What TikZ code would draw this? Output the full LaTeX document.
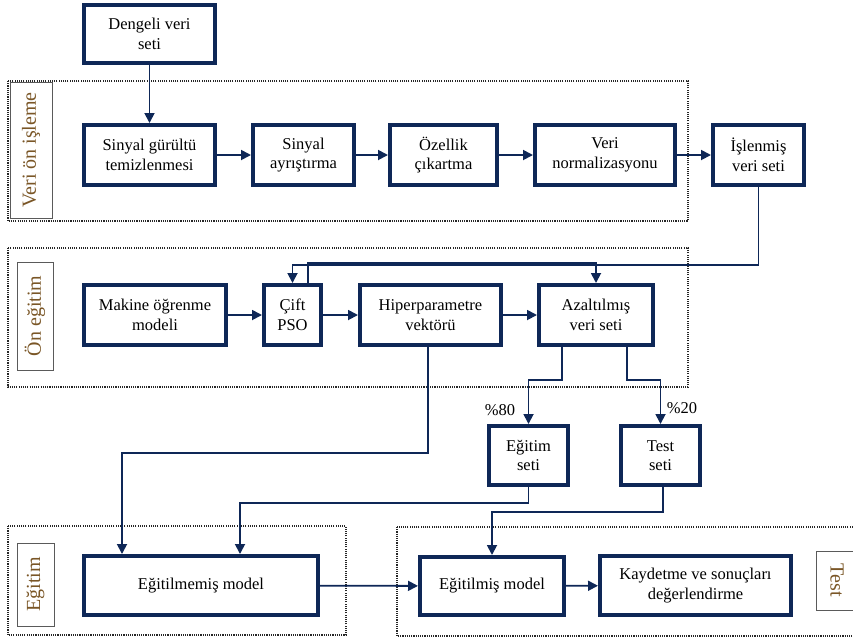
\documentclass[tikz,border=0pt]{standalone}
\usepackage{fontspec}
\setmainfont{Liberation Serif}
\usetikzlibrary{arrows.meta}
\definecolor{navy}{HTML}{0E2757}
\definecolor{labbrown}{HTML}{7A5626}
\definecolor{labgray}{HTML}{5A5A5A}
\tikzset{
  box/.style={draw=navy, line width=4pt, fill=white, align=center, inner sep=2pt,
    font=\rmfamily\fontsize{16.5}{19.5}\selectfont},
  conn/.style={draw=navy, line width=1.8pt, -{Triangle[length=10pt,width=10pt]}},
  group/.style={draw=black!85, line width=1.6pt, dash pattern=on 1.1pt off 1.1pt},
  lab/.style={draw=labgray, line width=1pt, text=labbrown, fill=white, inner sep=0pt,
    font=\rmfamily\fontsize{20}{22}\selectfont},
  pct/.style={font=\rmfamily\fontsize{16.5}{19}\selectfont, inner sep=0pt}
}
\begin{document}
\begin{tikzpicture}[x=1pt,y=-1pt]
\useasboundingbox (0,0) rectangle (853,641);
\clip (0,0) rectangle (853,641);
% groups
\draw[group] (8,81) rectangle (688,221);
\draw[group] (8,248) rectangle (688,387);
\draw[group] (8,526) rectangle (346,635);
\draw[group] (397,527) rectangle (880,636);
% group labels
\node[lab, rotate=90, minimum width=136pt, minimum height=42pt] (l1) at (31,150) {Veri ön işleme};
\node[lab, rotate=90, minimum width=108pt, minimum height=36pt] (l2) at (35,316) {Ön eğitim};
\node[lab, rotate=90, minimum width=83pt, minimum height=37pt] (l3) at (35.5,584.5) {Eğitim};
\node[lab, rotate=-90, minimum width=59pt, minimum height=42pt] (l4) at (837,580.5) {Test};
% boxes
\node[box, minimum width=131pt, minimum height=58pt] (deng) at (149.5,34) {Dengeli veri\\seti};
\node[box, minimum width=131pt, minimum height=60pt] (sgt) at (149.5,155) {Sinyal gürültü\\temizlenmesi};
\node[box, minimum width=101pt, minimum height=60pt] (say) at (303.5,155) {Sinyal\\ayrıştırma};
\node[box, minimum width=107pt, minimum height=60pt] (oz) at (443.5,155) {Özellik\\çıkartma};
\node[box, minimum width=140pt, minimum height=60pt] (vn) at (605,155) {Veri\\normalizasyonu};
\node[box, minimum width=91pt, minimum height=60pt] (isl) at (758.5,155) {İşlenmiş\\veri seti};
\node[box, minimum width=142pt, minimum height=60pt] (mak) at (155,315) {Makine öğrenme\\modeli};
\node[box, minimum width=57pt, minimum height=60pt] (pso) at (292.5,315) {Çift\\PSO};
\node[box, minimum width=141pt, minimum height=60pt] (hip) at (430.5,315) {Hiperparametre\\vektörü};
\node[box, minimum width=114pt, minimum height=60pt] (aza) at (596,315) {Azaltılmış\\veri seti};
\node[box, minimum width=79pt, minimum height=59pt] (egs) at (528.5,455.5) {Eğitim\\seti};
\node[box, minimum width=79pt, minimum height=59pt] (tst) at (660.5,455.5) {Test\\seti};
\node[box, minimum width=234pt, minimum height=59pt] (egm) at (201,585.5) {Eğitilmemiş model};
\node[box, minimum width=144pt, minimum height=58pt] (egl) at (492,586) {Eğitilmiş model};
\node[box, minimum width=191pt, minimum height=59pt] (kay) at (695.5,585.5) {Kaydetme ve sonuçları\\değerlendirme};
% percentage labels
\node[pct] (p80) at (500,410) {\%80};
\node[pct] (p20) at (682,408) {\%20};
% connectors
\draw[conn] (deng.south) -- (sgt.north);
\draw[conn] (sgt) -- (say);
\draw[conn] (say) -- (oz);
\draw[conn] (oz) -- (vn);
\draw[conn] (vn) -- (isl);
\draw[conn] (isl.south) -- ++(0,78) -| (pso.north);
\draw[conn] ([xshift=15.5pt]pso.north) |- ++(0,-20) -| (aza.north);
\draw[conn] (mak) -- (pso);
\draw[conn] (pso) -- (hip);
\draw[conn] (hip) -- (aza);
\draw[conn] ([xshift=-2.5pt]hip.south) |- ++(0,106) -| ([xshift=-79pt]egm.north);
\draw[conn] ([xshift=-34pt]aza.south) |- ++(0,33) -| (egs.north);
\draw[conn] ([xshift=31pt]aza.south) |- ++(0,33) -| (tst.north);
\draw[conn] (egs.south) |- ++(0,16) -| ([xshift=39pt]egm.north);
\draw[conn] ([xshift=2.5pt]tst.south) |- ++(0,25) -| (egl.north);
\draw[conn] (egm) -- (egl);
\draw[conn] (egl) -- (kay);
\end{tikzpicture}
\end{document}
